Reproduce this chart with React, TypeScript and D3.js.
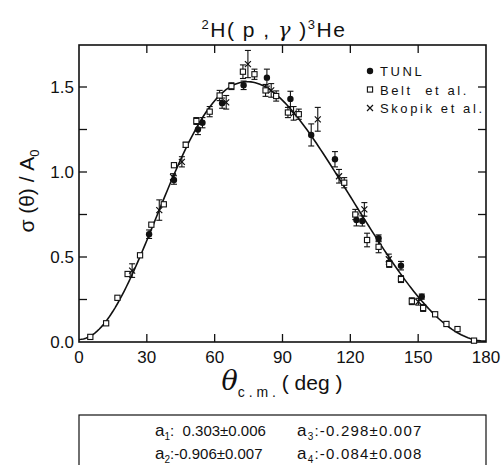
import React, { useRef, useEffect } from 'react';
import * as d3 from 'd3';

// [theta (deg), sigma/A0, error]
const beltData: [number, number, number][] = [
  [5, 0.03, 0], [12, 0.11, 0], [17, 0.26, 0], [21.5, 0.40, 0], [27, 0.51, 0],
  [32, 0.69, 0], [37.5, 0.81, 0], [42, 1.04, 0], [47.2, 1.16, 0.015], [51.9, 1.30, 0.02],
  [57.8, 1.355, 0.03], [62.2, 1.45, 0.03], [67.4, 1.505, 0.02], [72.5, 1.59, 0.04],
  [77.6, 1.575, 0.03], [82.5, 1.48, 0.035], [87.2, 1.447, 0.03], [92.4, 1.35, 0.03],
  [97.2, 1.34, 0.03], [117.3, 0.937, 0.03], [122.2, 0.75, 0.03], [127.4, 0.60, 0.04],
  [132.5, 0.56, 0.035], [137.2, 0.459, 0.02], [142.4, 0.37, 0.02], [147.2, 0.24, 0.02],
  [152.2, 0.20, 0.02], [157.5, 0.163, 0], [162.5, 0.106, 0], [167.4, 0.076, 0], [174.7, 0.008, 0],
];

const tunlData: [number, number, number][] = [
  [31, 0.634, 0.025], [42, 0.953, 0.025], [52.6, 1.25, 0.03], [54.6, 1.29, 0.03],
  [63.3, 1.405, 0.03], [72.8, 1.51, 0.025], [83.1, 1.555, 0.05], [93.5, 1.43, 0.045],
  [102.7, 1.218, 0.065], [113.2, 1.075, 0.045], [122.7, 0.718, 0.035], [125.3, 0.712, 0.03],
  [132.5, 0.61, 0.02], [142.4, 0.449, 0.025], [151.6, 0.267, 0.015],
];

const skopikData: [number, number, number][] = [
  [23.5, 0.42, 0.04], [35.5, 0.776, 0.06], [41.6, 0.97, 0.02], [45.5, 1.06, 0.03],
  [65.1, 1.41, 0.04], [74.7, 1.635, 0.08], [85, 1.48, 0.04], [94.9, 1.345, 0.04],
  [105.6, 1.31, 0.07], [115, 0.975, 0.04], [126.2, 0.78, 0.04], [137, 0.487, 0.03],
  [150.1, 0.237, 0.02],
];

// Legendre fit coefficients a1..a4 and their errors
const fitCoeffs = [0.303, -0.906, -0.298, -0.084];
const fitErrors = [0.006, 0.007, 0.007, 0.008];

const xTicks = [0, 30, 60, 90, 120, 150, 180];
const yTicks = [0, 0.5, 1.0, 1.5];
const yMinorTicks = [0.25, 0.75, 1.25];
const legendLabels = ['TUNL', 'Belt  et al.', 'Skopik et al.'];

const W = 502;
const H = 465;
const FONT = '"Liberation Sans", Arial, sans-serif';

const legendre = (n: number, x: number) => {
  if (n === 1) return x;
  if (n === 2) return (3 * x * x - 1) / 2;
  if (n === 3) return (5 * x * x * x - 3 * x) / 2;
  return (35 * x ** 4 - 30 * x * x + 3) / 8;
};

const App = () => {
  const svgRef = useRef<SVGSVGElement>(null);

  useEffect(() => {
    const svg = d3.select(svgRef.current);
    svg.selectAll('*').remove();

    const left = 79, right = 486, top = 45, bottom = 342;
    const x = d3.scaleLinear().domain([0, 180]).range([left, right]);
    const y = d3.scaleLinear().domain([0, 1.5]).range([bottom, bottom - 255]);

    // frame
    svg.append('rect')
      .attr('x', left).attr('y', top)
      .attr('width', right - left).attr('height', bottom - top)
      .attr('fill', 'none').attr('stroke', '#111').attr('stroke-width', 1.6);

    // x ticks (inward, bottom and top)
    const tickLen = 8;
    xTicks.slice(1, -1).forEach(t => {
      svg.append('line').attr('x1', x(t)).attr('x2', x(t))
        .attr('y1', bottom).attr('y2', bottom - tickLen)
        .attr('stroke', '#111').attr('stroke-width', 1.3);
      svg.append('line').attr('x1', x(t)).attr('x2', x(t))
        .attr('y1', top).attr('y2', top + tickLen)
        .attr('stroke', '#111').attr('stroke-width', 1.3);
    });
    xTicks.forEach(t => {
      svg.append('text').attr('x', x(t)).attr('y', bottom + 21)
        .attr('text-anchor', 'middle').attr('font-family', FONT)
        .attr('font-size', 17).attr('fill', '#111').text(String(t));
    });

    // y ticks (inward, left and right)
    [...yTicks.slice(1), ...yMinorTicks].forEach(t => {
      svg.append('line').attr('x1', left).attr('x2', left + tickLen)
        .attr('y1', y(t)).attr('y2', y(t))
        .attr('stroke', '#111').attr('stroke-width', 1.3);
      svg.append('line').attr('x1', right).attr('x2', right - tickLen)
        .attr('y1', y(t)).attr('y2', y(t))
        .attr('stroke', '#111').attr('stroke-width', 1.3);
    });
    yTicks.forEach(t => {
      svg.append('text').attr('x', left - 5).attr('y', y(t) + 6)
        .attr('text-anchor', 'end').attr('font-family', FONT)
        .attr('font-size', 17).attr('fill', '#111').text(t.toFixed(1));
    });

    // fitted curve
    const curve = d3.range(0, 180.5, 1).map(deg => {
      const c = Math.cos(deg * Math.PI / 180);
      let s = 1;
      fitCoeffs.forEach((a, i) => { s += a * legendre(i + 1, c); });
      return [deg, s] as [number, number];
    });
    svg.append('path')
      .datum(curve)
      .attr('fill', 'none').attr('stroke', '#111').attr('stroke-width', 1.6)
      .attr('d', d3.line<[number, number]>().x(d => x(d[0])).y(d => y(d[1])));

    // error bars
    const drawErr = (data: [number, number, number][]) => {
      data.filter(d => d[2] > 0).forEach(d => {
        const cx = x(d[0]);
        const g = svg.append('g').attr('stroke', '#111').attr('stroke-width', 1.1);
        g.append('line').attr('x1', cx).attr('x2', cx)
          .attr('y1', y(d[1] - d[2])).attr('y2', y(d[1] + d[2]));
        [d[1] - d[2], d[1] + d[2]].forEach(v => {
          g.append('line').attr('x1', cx - 3).attr('x2', cx + 3)
            .attr('y1', y(v)).attr('y2', y(v));
        });
      });
    };
    drawErr(beltData);
    drawErr(tunlData);
    drawErr(skopikData);

    const square = (g: any, cx: number, cy: number) =>
      g.append('rect').attr('x', cx - 2.6).attr('y', cy - 2.6)
        .attr('width', 5.2).attr('height', 5.2)
        .attr('fill', '#fff').attr('stroke', '#111').attr('stroke-width', 1.1);
    const dot = (g: any, cx: number, cy: number) =>
      g.append('circle').attr('cx', cx).attr('cy', cy).attr('r', 3.2).attr('fill', '#111');
    const cross = (g: any, cx: number, cy: number) =>
      g.append('path')
        .attr('d', `M${cx - 3},${cy - 3}L${cx + 3},${cy + 3}M${cx - 3},${cy + 3}L${cx + 3},${cy - 3}`)
        .attr('stroke', '#111').attr('stroke-width', 1.2);

    beltData.forEach(d => square(svg, x(d[0]), y(d[1])));
    tunlData.forEach(d => dot(svg, x(d[0]), y(d[1])));
    skopikData.forEach(d => cross(svg, x(d[0]), y(d[1])));

    // legend
    const markers = [dot, square, cross];
    legendLabels.forEach((label, i) => {
      const ly = 71 + i * 18.5;
      markers[i](svg, 370, ly);
      svg.append('text').attr('x', 380).attr('y', ly + 5)
        .attr('font-family', FONT).attr('font-size', 13).attr('fill', '#111')
        .attr('letter-spacing', 2.6)
        .attr('xml:space', 'preserve').text(label);
    });

    // title
    const title = svg.append('text').attr('x', 274).attr('y', 37)
      .attr('text-anchor', 'middle').attr('font-family', FONT)
      .attr('font-size', 21).attr('fill', '#111').attr('letter-spacing', 1.5);
    title.append('tspan').attr('font-size', 13).attr('dy', -8).text('2');
    title.append('tspan').attr('dy', 8).text('H( p , ');
    title.append('tspan').attr('font-family', '"DejaVu Serif", serif').attr('font-style', 'italic').text('γ');
    title.append('tspan').text(' )');
    title.append('tspan').attr('font-size', 13).attr('dy', -8).text('3');
    title.append('tspan').attr('dy', 8).text('He');

    // y label
    const ylab = svg.append('text')
      .attr('transform', `translate(34,191) rotate(-90)`)
      .attr('text-anchor', 'middle').attr('font-family', FONT)
      .attr('font-size', 21).attr('fill', '#111');
    ylab.append('tspan').text('σ (θ) / A');
    ylab.append('tspan').attr('font-size', 13).attr('dy', 5).text('0');

    // x label
    const xlab = svg.append('text').attr('x', 282).attr('y', 390)
      .attr('text-anchor', 'middle').attr('font-family', FONT)
      .attr('font-size', 21).attr('fill', '#111');
    xlab.append('tspan').attr('font-size', 27).attr('font-family', '"DejaVu Serif", serif')
      .attr('font-style', 'italic').text('θ');
    xlab.append('tspan').attr('font-size', 14).attr('dy', 7).text('c . m .');
    xlab.append('tspan').attr('dy', -7).text(' ( deg )');

    // fit parameters box
    svg.append('rect').attr('x', 79).attr('y', 415)
      .attr('width', 407).attr('height', 70)
      .attr('fill', 'none').attr('stroke', '#111').attr('stroke-width', 1.2);
    const fmt = (v: number) => (v < 0 ? '-' : '  ') + Math.abs(v).toFixed(3);
    const cols = [155, 297];
    const rows = [436, 459];
    [[0, 2], [1, 3]].forEach((pair, r) => {
      pair.forEach((k, c) => {
        const t = svg.append('text').attr('x', cols[c]).attr('y', rows[r])
          .attr('font-family', FONT).attr('font-size', 15).attr('fill', '#111')
          .attr('letter-spacing', c === 0 ? 0 : 1.2)
          .attr('xml:space', 'preserve');
        t.append('tspan').attr('font-size', 17).text('a');
        t.append('tspan').attr('font-size', 10).attr('dy', 4).text(String(k + 1));
        t.append('tspan').attr('dy', -4).text(`:${fmt(fitCoeffs[k])}±${fitErrors[k].toFixed(3)}`);
      });
    });
  }, []);

  return (
    <svg ref={svgRef} width={W} height={H}
      style={{ position: 'absolute', left: 0, top: 0, background: '#fff' }} />
  );
};

export default App;
